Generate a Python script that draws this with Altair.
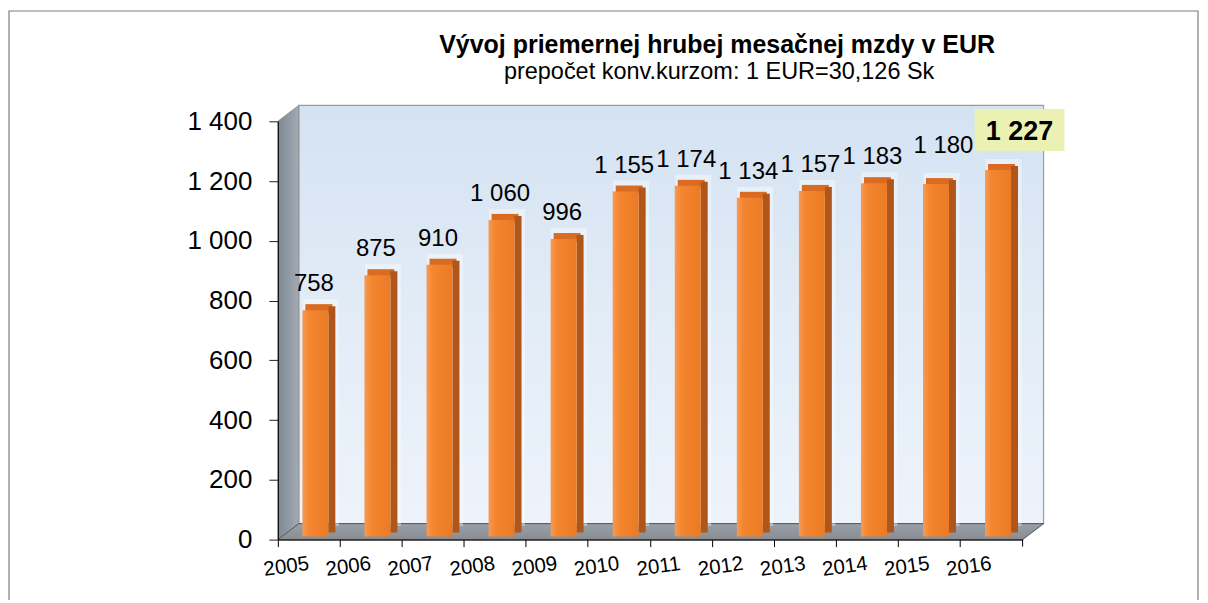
import altair as alt
import pandas as pd

years = ["2005", "2006", "2007", "2008", "2009", "2010",
         "2011", "2012", "2013", "2014", "2015", "2016"]
wages = [758, 875, 910, 1060, 996, 1155, 1174, 1134, 1157, 1183, 1180, 1227]
y_ticks = [0, 200, 400, 600, 800, 1000, 1200, 1400]

title_text = "Vývoj priemernej hrubej mesačnej mzdy v EUR"
subtitle_text = "prepočet konv.kurzom: 1 EUR=30,126 Sk"

FONT = "Liberation Sans"
W, H = 746, 419

df = pd.DataFrame({
    "year": years,
    "wage": wages,
    "label": [f"{v:,}".replace(",", " ") for v in wages],
})
one = pd.DataFrame({"a": [0]})

x_enc = alt.X("year:N", sort=years,
              scale=alt.Scale(paddingInner=0, paddingOuter=0),
              axis=alt.Axis(title=None, labelAngle=352, labelAlign="center",
                            labelBaseline="top", labelFontSize=20.5, labelFont=FONT,
                            labelColor="#000", labelOffset=-24, labelPadding=10,
                            tickSize=7, tickColor="#000", domainColor="#000",
                            bandPosition=0, zindex=1, grid=False))
y_enc = alt.Y("wage:Q",
              scale=alt.Scale(domain=[0, 1400], nice=False),
              axis=alt.Axis(title=None, values=y_ticks,
                            labelExpr="replace(format(datum.value, ','), ',', ' ')",
                            labelFontSize=26, labelFont=FONT, labelColor="#000",
                            labelPadding=17, tickSize=9, tickColor="#222",
                            domainColor="#000", grid=False, zindex=1))


def grad(stops, horizontal=True):
    return {
        "gradient": "linear",
        "x1": 0, "y1": 0,
        "x2": 1 if horizontal else 0,
        "y2": 0 if horizontal else 1,
        "stops": [{"offset": o, "color": c} for o, c in stops],
    }


def shape(path, fill=None, stroke=None, sw=1):
    kw = dict(shape=path, size=4, opacity=1, filled=fill is not None)
    if fill is not None:
        kw["fill"] = fill
    if stroke is not None:
        kw["stroke"] = stroke
        kw["strokeWidth"] = sw
    else:
        kw["strokeWidth"] = 0
    return alt.Chart(one).mark_point(**kw).encode(x=alt.value(0), y=alt.value(0))


back_wall = shape("M21,-16L767,-16L767,403L21,403Z",
                  fill=grad([(0, "#D4E2F2"), (0.5, "#E2ECF7"), (1, "#EDF3FA")], horizontal=False),
                  stroke="#9C9C9C", sw=1.2)
left_wall = shape("M0,0L21,-16L21,403L0,419Z",
                  fill=grad([(0, "#7E8893"), (1, "#A2ABB4")]),
                  stroke="#8A8A8A", sw=0.8)
floor = shape("M0,419L21,403L767,403L746,419Z",
              fill=grad([(0, "#9AA0A6"), (1, "#878D93")], horizontal=False),
              stroke="#555", sw=1)
end_tick = shape("M746,419L746,426", stroke="#000", sw=1)
frame = shape("M-269.3,520L-269.3,-110.5L921.7,-110.5L921.7,520", stroke="#7F7F7F", sw=1.2)

title_mark = alt.Chart(one).mark_text(
    text=title_text, font=FONT, fontSize=25, fontWeight="bold", color="#000",
    align="center", baseline="alphabetic").encode(x=alt.value(440), y=alt.value(-68.5))
subtitle_mark = alt.Chart(one).mark_text(
    text=subtitle_text, font=FONT, fontSize=23.5, color="#000",
    align="center", baseline="alphabetic").encode(x=alt.value(442), y=alt.value(-42))

base = alt.Chart(df).encode(x=x_enc, y=y_enc)

glow = base.mark_bar(size=36, xOffset=12, yOffset=-14, y2Offset=-16,
                     color="#FFFFFF", opacity=0.4)
top_face = base.mark_bar(size=27, xOffset=10, yOffset=-9, color="#D96C22").encode(
    y2=alt.Y2("wage:Q"))
side_face = base.mark_bar(size=7, xOffset=23, yOffset=-7, y2Offset=-8, color="#B0561B")
front_face = base.mark_bar(size=26, xOffset=6.5, yOffset=-3, y2Offset=-4,
                           color=grad([(0, "#F79A55"), (0.25, "#F3862F"), (1, "#EC7A24")]))

labels = base.mark_text(dx=5, dy=-22, baseline="alphabetic", fontSize=24, font=FONT,
                        color="#000").encode(text="label:N").transform_filter(
    "datum.year != '2015' && datum.year != '2016'")
label_2015 = base.mark_text(dx=14, dy=-34, baseline="alphabetic", fontSize=24, font=FONT,
                            color="#000").encode(text="label:N").transform_filter(
    "datum.year == '2015'")
box_2016 = base.mark_bar(size=90, xOffset=28, yOffset=-64, y2Offset=-22,
                         color="#EAF1B2").encode(
    y2=alt.Y2("wage:Q")).transform_filter("datum.year == '2016'")
label_2016 = base.mark_text(dx=28, dy=-33, baseline="alphabetic", fontSize=27, font=FONT,
                            fontWeight="bold", color="#000").encode(text="label:N").transform_filter(
    "datum.year == '2016'")

chart = alt.layer(
    back_wall, left_wall, floor, glow, top_face, side_face, front_face,
    labels, label_2015, box_2016, label_2016, end_tick, frame,
    title_mark, subtitle_mark,
).properties(
    width=W, height=H,
    padding={"left": 270.3, "top": 113, "right": 177.7, "bottom": 60},
    autosize=alt.AutoSizeParams(type="none"),
).configure_view(stroke=None).configure(background="#FFFFFF")

chart.save("out.html", embed_options={"renderer": "svg", "actions": False})
